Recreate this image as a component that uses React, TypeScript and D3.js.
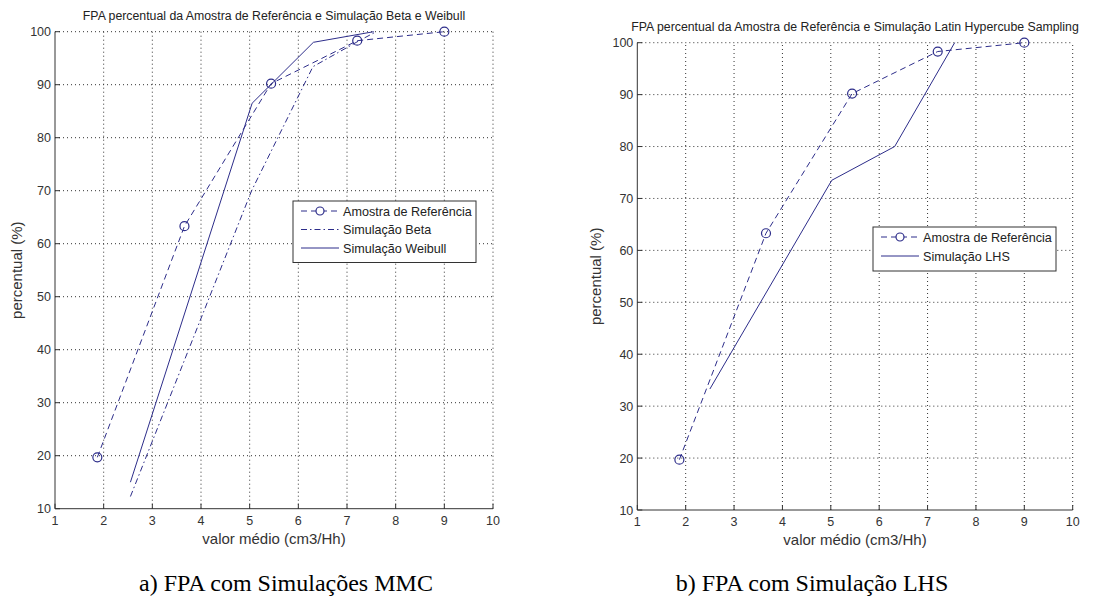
import React from "react";
import * as d3 from "d3";

// tick values shared by both panels
const xTicks = [1, 2, 3, 4, 5, 6, 7, 8, 9, 10];
const yTicks = [10, 20, 30, 40, 50, 60, 70, 80, 90, 100];

// reference sample (same in both panels)
const refX = [1.87, 3.66, 5.44, 7.21, 9.0];
const refY = [19.7, 63.3, 90.2, 98.3, 100];

// panel a) simulations
const betaX = [2.55, 5.04, 6.3, 7.25, 7.6];
const betaY = [12.3, 70, 93.4, 98.3, 100];
const weibullX = [2.55, 5.05, 6.31, 7.55];
const weibullY = [15, 86.5, 98, 100];

// panel b) simulation
const lhsX = [2.5, 5.02, 6.32, 7.56];
const lhsY = [33.3, 73.5, 80, 100];

const BLUE = "#2d2d8a";
const AXIS_FONT = "'Liberation Sans', Arial, sans-serif";

type Series = { name: string; xs: number[]; ys: number[]; dash?: string; marker?: boolean };

type PanelProps = {
  left: number;
  right: number;
  top: number;
  bottom: number;
  title: string;
  titleY: number;
  series: Series[];
  legend: { x: number; y: number; w: number; row: number };
  caption: string;
  captionX: number;
  yLabelX: number;
};

function Panel(p: PanelProps) {
  const x = d3.scaleLinear().domain([1, 10]).range([p.left, p.right]);
  const y = d3.scaleLinear().domain([10, 100]).range([p.bottom, p.top]);
  const line = d3.line<[number, number]>().x(d => x(d[0])).y(d => y(d[1]));
  const cx = (p.left + p.right) / 2;
  const cy = (p.top + p.bottom) / 2;
  const lg = p.legend;
  const lgH = p.series.length * lg.row + 6;

  return (
    <g>
      <text x={cx} y={p.titleY} textAnchor="middle" fontFamily={AXIS_FONT} fontSize={12.3} fill="#222">
        {p.title}
      </text>

      {/* dotted grid */}
      {xTicks.slice(1).map(t => (
        <line key={"gx" + t} x1={x(t)} x2={x(t)} y1={p.bottom} y2={p.top} stroke="#333" strokeDasharray="1,3" />
      ))}
      {yTicks.slice(1).map(t => (
        <line key={"gy" + t} x1={p.left} x2={p.right} y1={y(t)} y2={y(t)} stroke="#333" strokeDasharray="1,3" />
      ))}

      {/* axes with inner ticks */}
      <line x1={p.left} x2={p.right} y1={p.bottom} y2={p.bottom} stroke="#333" />
      <line x1={p.left} x2={p.left} y1={p.bottom} y2={p.top} stroke="#333" />
      {xTicks.map(t => (
        <g key={"tx" + t}>
          <line x1={x(t)} x2={x(t)} y1={p.bottom} y2={p.bottom - 5} stroke="#333" />
          <text x={x(t)} y={p.bottom + 16} textAnchor="middle" fontFamily={AXIS_FONT} fontSize={12.5} fill="#333">
            {t}
          </text>
        </g>
      ))}
      {yTicks.map(t => (
        <g key={"ty" + t}>
          <line x1={p.left} x2={p.left + 5} y1={y(t)} y2={y(t)} stroke="#333" />
          <text x={p.left - 4} y={y(t) + 4.5} textAnchor="end" fontFamily={AXIS_FONT} fontSize={12.5} fill="#333">
            {t}
          </text>
        </g>
      ))}

      <text x={cx} y={p.bottom + 35} textAnchor="middle" fontFamily={AXIS_FONT} fontSize={15} fill="#333">
        valor médio (cm3/Hh)
      </text>
      <text
        transform={`translate(${p.yLabelX},${cy}) rotate(-90)`}
        textAnchor="middle"
        fontFamily={AXIS_FONT}
        fontSize={15}
        fill="#333"
      >
        percentual (%)
      </text>

      {/* data lines */}
      {p.series.map(s => {
        const pts = s.xs.map((v, i) => [v, s.ys[i]] as [number, number]);
        return (
          <g key={s.name}>
            <path d={line(pts) || ""} fill="none" stroke={BLUE} strokeWidth={1} strokeDasharray={s.dash} />
            {s.marker &&
              pts.map((d, i) => (
                <circle key={i} cx={x(d[0])} cy={y(d[1])} r={4.5} fill="none" stroke={BLUE} strokeWidth={1.2} />
              ))}
          </g>
        );
      })}

      {/* legend */}
      <rect x={lg.x} y={lg.y} width={lg.w} height={lgH} fill="#fff" stroke="#333" />
      {p.series.map((s, i) => {
        const ry = lg.y + 10 + i * lg.row;
        return (
          <g key={"lg" + s.name}>
            <line x1={lg.x + 8} x2={lg.x + 46} y1={ry} y2={ry} stroke={BLUE} strokeDasharray={s.dash} />
            {s.marker && <circle cx={lg.x + 27} cy={ry} r={4} fill="#fff" stroke={BLUE} strokeWidth={1.2} />}
            <text x={lg.x + 50} y={ry + 4.5} fontFamily={AXIS_FONT} fontSize={12.6} fill="#222">
              {s.name}
            </text>
          </g>
        );
      })}

      <text x={p.captionX} y={591} textAnchor="middle" fontFamily="'Liberation Serif', 'Times New Roman', serif" fontSize={24} fill="#000">
        {p.caption}
      </text>
    </g>
  );
}

export default function App() {
  const ref: Series = { name: "Amostra de Referência", xs: refX, ys: refY, dash: "6,4", marker: true };
  return (
    <div style={{ position: "absolute", left: 0, top: 0 }}>
      <svg width={1093} height={597} style={{ display: "block", background: "#fff" }}>
        <Panel
          left={55}
          right={493}
          top={31.7}
          bottom={508.7}
          title="FPA percentual da Amostra de Referência e Simulação Beta e Weibull"
          titleY={20}
          series={[
            ref,
            { name: "Simulação Beta", xs: betaX, ys: betaY, dash: "6,3,1.5,3" },
            { name: "Simulação Weibull", xs: weibullX, ys: weibullY },
          ]}
          legend={{ x: 293, y: 201, w: 183, row: 18.5 }}
          caption="a) FPA com Simulações MMC"
          captionX={286}
          yLabelX={22}
        />
        <Panel
          left={637.3}
          right={1072.7}
          top={42.7}
          bottom={510}
          title="FPA percentual da Amostra de Referência e Simulação Latin Hypercube Sampling"
          titleY={31}
          series={[ref, { name: "Simulação LHS", xs: lhsX, ys: lhsY }]}
          legend={{ x: 873, y: 227, w: 183, row: 19 }}
          caption="b) FPA com Simulação LHS"
          captionX={812}
          yLabelX={601}
        />
      </svg>
    </div>
  );
}
